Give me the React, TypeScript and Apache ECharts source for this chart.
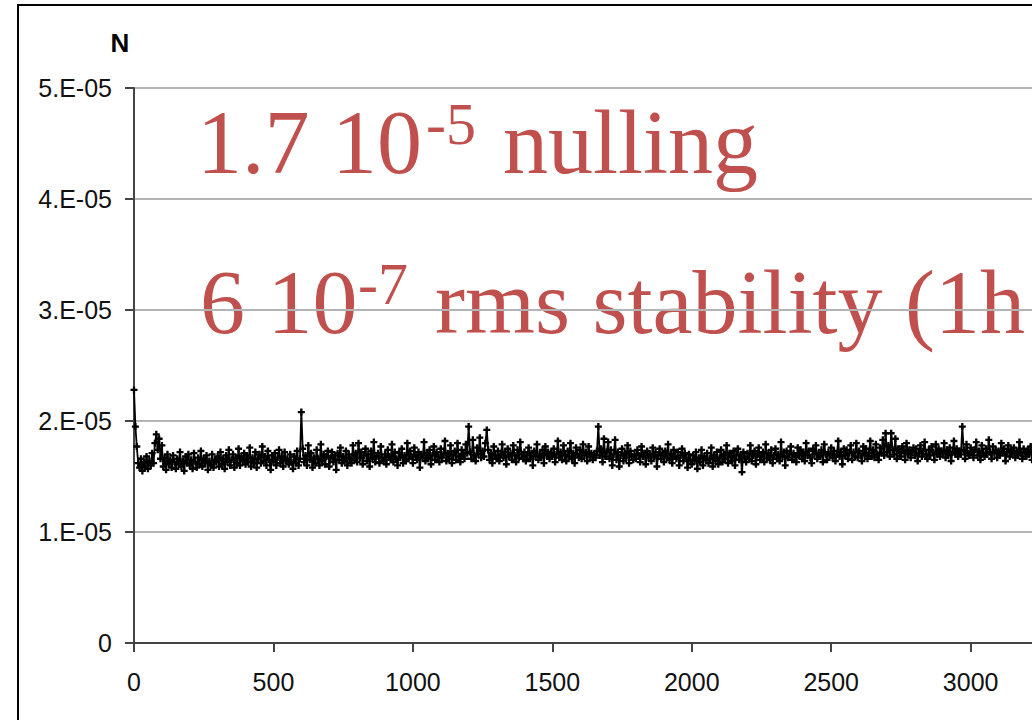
import React, { useEffect, useRef } from "react";
import * as echarts from "echarts";

// Sampling interval of the null measurement (seconds)
const SAMPLE_STEP_S = 5;
// Null depth values are stored in units of 1e-5
const NULL_UNIT = 1e-5;

// Null depth N, one value every SAMPLE_STEP_S seconds, starting at t = 0 (each row = 50 s)
const nullDepth = [
  2.28, 1.95, 1.77, 1.62, 1.58, 1.66, 1.55, 1.63, 1.59, 1.68,
  1.57, 1.64, 1.60, 1.71, 1.62, 1.80, 1.88, 1.74, 1.84, 1.66,
  1.78, 1.59, 1.67, 1.56, 1.70, 1.61, 1.65, 1.58, 1.69, 1.63,
  1.57, 1.66, 1.61, 1.72, 1.59, 1.64, 1.55, 1.68, 1.62, 1.70,
  1.60, 1.65, 1.57, 1.71, 1.63, 1.58, 1.67, 1.61, 1.73, 1.59,
  1.66, 1.62, 1.69, 1.56, 1.64, 1.60, 1.70, 1.58, 1.65, 1.63,
  1.68, 1.59, 1.72, 1.61, 1.66, 1.57, 1.69, 1.63, 1.74, 1.60,
  1.65, 1.70, 1.58, 1.67, 1.62, 1.75, 1.60, 1.68, 1.64, 1.71,
  1.61, 1.69, 1.63, 1.76, 1.59, 1.67, 1.62, 1.72, 1.58, 1.66,
  1.70, 1.62, 1.77, 1.64, 1.68, 1.60, 1.73, 1.65, 1.56, 1.69,
  1.63, 1.71, 1.60, 1.67, 1.74, 1.62, 1.68, 1.59, 1.72, 1.64,
  1.66, 1.61, 1.70, 1.63, 1.57, 1.68, 1.62, 1.73, 1.60, 1.66,
  2.08, 1.75, 1.63, 1.69, 1.60, 1.78, 1.65, 1.71, 1.58, 1.67,
  1.62, 1.74, 1.66, 1.60, 1.79, 1.64, 1.70, 1.61, 1.68, 1.73,
  1.59, 1.67, 1.72, 1.63, 1.69, 1.56, 1.71, 1.65, 1.76, 1.62,
  1.68, 1.64, 1.73, 1.60, 1.70, 1.66, 1.62, 1.78, 1.65, 1.71,
  1.63, 1.80, 1.67, 1.72, 1.61, 1.69, 1.75, 1.64, 1.70, 1.59,
  1.73, 1.66, 1.81, 1.63, 1.68, 1.71, 1.62, 1.77, 1.67, 1.64,
  1.70, 1.61, 1.74, 1.68, 1.65, 1.79, 1.63, 1.72, 1.66, 1.60,
  1.71, 1.67, 1.75, 1.62, 1.69, 1.64, 1.80, 1.66, 1.73, 1.68,
  1.62, 1.76, 1.69, 1.65, 1.72, 1.58, 1.70, 1.67, 1.81, 1.64,
  1.71, 1.66, 1.74, 1.61, 1.69, 1.77, 1.65, 1.72, 1.68, 1.63,
  1.75, 1.67, 1.70, 1.82, 1.64, 1.71, 1.66, 1.78, 1.62, 1.69,
  1.73, 1.65, 1.80, 1.68, 1.63, 1.74, 1.70, 1.66, 1.79, 1.71,
  1.95, 1.72, 1.66, 1.83, 1.69, 1.64, 1.76, 1.70, 1.85, 1.67,
  1.73, 1.68, 1.80, 1.92, 1.74, 1.65, 1.71, 1.62, 1.77, 1.69,
  1.66, 1.73, 1.64, 1.70, 1.79, 1.67, 1.72, 1.61, 1.75, 1.68,
  1.71, 1.65, 1.78, 1.69, 1.63, 1.74, 1.67, 1.81, 1.70, 1.66,
  1.72, 1.64, 1.69, 1.76, 1.66, 1.71, 1.60, 1.73, 1.68, 1.79,
  1.65, 1.70, 1.67, 1.74, 1.62, 1.77, 1.69, 1.72, 1.66, 1.71,
  1.68, 1.75, 1.63, 1.70, 1.82, 1.67, 1.72, 1.65, 1.78, 1.69,
  1.64, 1.73, 1.68, 1.80, 1.66, 1.71, 1.62, 1.76, 1.70, 1.67,
  1.74, 1.66, 1.79, 1.69, 1.72, 1.64, 1.77, 1.68, 1.71, 1.65,
  1.70, 1.67, 1.73, 1.95, 1.69, 1.75, 1.63, 1.84, 1.68, 1.72,
  1.81, 1.66, 1.74, 1.60, 1.70, 1.83, 1.65, 1.72, 1.59, 1.69,
  1.75, 1.64, 1.71, 1.67, 1.78, 1.62, 1.73, 1.68, 1.65, 1.70,
  1.66, 1.74, 1.69, 1.63, 1.77, 1.68, 1.71, 1.61, 1.73, 1.67,
  1.70, 1.64, 1.76, 1.68, 1.72, 1.59, 1.69, 1.75, 1.66, 1.71,
  1.63, 1.73, 1.67, 1.79, 1.65, 1.70, 1.62, 1.74, 1.68, 1.66,
  1.72, 1.60, 1.69, 1.75, 1.64, 1.71, 1.67, 1.58, 1.70, 1.65,
  1.61, 1.69, 1.64, 1.72, 1.57, 1.67, 1.63, 1.74, 1.60, 1.68,
  1.65, 1.71, 1.62, 1.66, 1.76, 1.59, 1.69, 1.64, 1.72, 1.61,
  1.67, 1.74, 1.63, 1.70, 1.66, 1.78, 1.62, 1.71, 1.68, 1.64,
  1.73, 1.60, 1.69, 1.75, 1.65, 1.70, 1.54, 1.72, 1.67, 1.63,
  1.71, 1.66, 1.78, 1.64, 1.69, 1.73, 1.61, 1.70, 1.76, 1.65,
  1.68, 1.72, 1.63, 1.79, 1.67, 1.71, 1.65, 1.74, 1.62, 1.69,
  1.75, 1.66, 1.70, 1.64, 1.81, 1.68, 1.72, 1.60, 1.73, 1.67,
  1.70, 1.77, 1.65, 1.71, 1.68, 1.63, 1.76, 1.69, 1.74, 1.66,
  1.72, 1.64, 1.80, 1.69, 1.73, 1.67, 1.62, 1.75, 1.70, 1.78,
  1.66, 1.71, 1.68, 1.74, 1.63, 1.79, 1.70, 1.65, 1.72, 1.69,
  1.76, 1.67, 1.73, 1.64, 1.70, 1.82, 1.68, 1.72, 1.61, 1.75,
  1.69, 1.74, 1.66, 1.71, 1.78, 1.65, 1.72, 1.68, 1.80, 1.67,
  1.73, 1.70, 1.64, 1.77, 1.69, 1.75, 1.66, 1.71, 1.82, 1.68,
  1.74, 1.67, 1.79, 1.70, 1.65, 1.76, 1.71, 1.83, 1.69, 1.89,
  1.72, 1.78, 1.68, 1.89, 1.74, 1.70, 1.84, 1.66, 1.75, 1.71,
  1.68, 1.77, 1.73, 1.65, 1.80, 1.70, 1.74, 1.67, 1.72, 1.76,
  1.69, 1.75, 1.64, 1.71, 1.78, 1.68, 1.73, 1.81, 1.70, 1.66,
  1.74, 1.69, 1.77, 1.72, 1.65, 1.79, 1.70, 1.75, 1.68, 1.73,
  1.71, 1.80, 1.67, 1.74, 1.69, 1.76, 1.64, 1.72, 1.82, 1.70,
  1.75, 1.68, 1.73, 1.70, 1.95, 1.74, 1.66, 1.79, 1.71, 1.69,
  1.76, 1.72, 1.67, 1.74, 1.81, 1.69, 1.73, 1.65, 1.78, 1.71,
  1.68, 1.75, 1.70, 1.83, 1.72, 1.66, 1.77, 1.71, 1.74, 1.67,
  1.73, 1.69, 1.80, 1.71, 1.75, 1.64, 1.72, 1.78, 1.68, 1.74,
  1.70, 1.76, 1.67, 1.73, 1.69, 1.81, 1.71, 1.66, 1.75, 1.72,
  1.68, 1.74, 1.70, 1.77, 1.65, 1.72, 1.79, 1.69, 1.73, 1.71,
];

// Axis settings
const X_MIN = 0;
const X_MAX = 3600;
const X_STEP = 500;
const X_LAST_SHOWN_LABEL = 3000;
const Y_MIN = 0;
const Y_MAX = 5e-5;
const Y_STEP = 1e-5;
const yTickLabels = ["0", "1.E-05", "2.E-05", "3.E-05", "4.E-05", "5.E-05"];
const yAxisTitle = "N";

// Annotation texts
const line1Main = "1.7 10";
const line1Sup = "-5";
const line1Rest = "nulling";
const line2Main = "6 10";
const line2Sup = "-7";
const line2Rest = "rms stability (1h";

const RED = "#C0504D";
const SERIF = '"Liberation Serif", "Times New Roman", Times, serif';
const SANS = '"Liberation Sans", Arial, Helvetica, sans-serif';

export default function App() {
  const ref = useRef<HTMLDivElement>(null);

  useEffect(() => {
    document.body.style.margin = "0";
    if (!ref.current) return;
    const chart = echarts.init(ref.current, null, { renderer: "svg" });

    const seriesData = nullDepth.map((v, i) => [i * SAMPLE_STEP_S, v * NULL_UNIT]);

    const redText = (text: string, x: number, y: number, size: number) => ({
      type: "text",
      x,
      y,
      z: -1,
      silent: true,
      style: {
        text,
        fill: RED,
        fontSize: size,
        fontFamily: SERIF,
        align: "left",
        verticalAlign: "middle",
      },
    });

    const option: any = {
      animation: false,
      backgroundColor: "transparent",
      grid: { left: 134, top: 88, width: 1004, height: 555, containLabel: false },
      xAxis: {
        type: "value",
        min: X_MIN,
        max: X_MAX,
        interval: X_STEP,
        axisLine: { show: true, lineStyle: { color: "#444", width: 2 } },
        axisTick: { show: true, length: 9, inside: false, lineStyle: { color: "#444", width: 2 } },
        axisLabel: {
          margin: 26,
          color: "#111",
          fontSize: 25,
          fontFamily: SANS,
          showMaxLabel: false,
          formatter: (v: number) => (v <= X_LAST_SHOWN_LABEL ? String(v) : ""),
        },
        splitLine: { show: false },
      },
      yAxis: {
        type: "value",
        min: Y_MIN,
        max: Y_MAX,
        interval: Y_STEP,
        axisLine: { show: true, onZero: false, lineStyle: { color: "#444", width: 2 } },
        axisTick: { show: true, length: 9, inside: false, lineStyle: { color: "#444", width: 2 } },
        axisLabel: {
          margin: 22,
          color: "#111",
          fontSize: 25,
          fontFamily: SANS,
          formatter: (v: number) => yTickLabels[Math.round(v / Y_STEP)] ?? "",
        },
        splitLine: { show: true, lineStyle: { color: "#b4b4b4", width: 2 } },
      },
      graphic: [
        {
          type: "text",
          x: 120,
          y: 43,
          silent: true,
          style: {
            text: yAxisTitle,
            fill: "#000",
            fontSize: 26,
            fontWeight: "bold",
            fontFamily: SANS,
            align: "center",
            verticalAlign: "middle",
          },
        },
        redText(line1Main, 197, 142, 90),
        redText(line1Sup, 426, 124, 60),
        redText(line1Rest, 503, 142, 90),
        redText(line2Main, 200, 302, 90),
        redText(line2Sup, 358, 284, 60),
        redText(line2Rest, 435, 302, 90),
      ],
      series: [
        {
          type: "line",
          data: seriesData,
          showAllSymbol: true,
          symbol: "path://M2,0H4V2H6V4H4V6H2V4H0V2H2Z",
          symbolSize: 7,
          itemStyle: { color: "#000" },
          lineStyle: { color: "#000", width: 1.8 },
          z: 3,
        },
      ],
    };

    chart.setOption(option);
    return () => chart.dispose();
  }, []);

  return (
    <div
      style={{
        position: "relative",
        width: 1032,
        height: 720,
        overflow: "hidden",
        background: "#fff",
      }}
    >
      <div ref={ref} style={{ position: "absolute", left: 0, top: 0, width: 1250, height: 720 }} />
      <div
        style={{
          position: "absolute",
          left: 17,
          top: 4,
          width: 1400,
          height: 900,
          border: "2px solid #000",
          pointerEvents: "none",
        }}
      />
    </div>
  );
}
